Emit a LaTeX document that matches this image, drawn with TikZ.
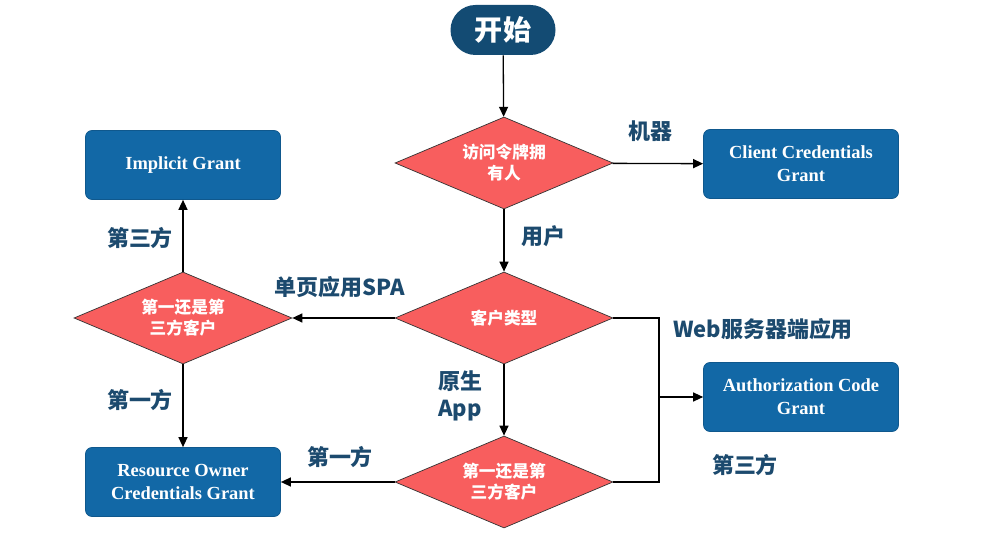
\documentclass[tikz,border=0pt]{standalone}
\usepackage{fontspec}
\setmainfont{Liberation Serif}
\newfontfamily\cjk{Noto Sans CJK SC}
\usetikzlibrary{arrows.meta,shapes.geometric}
\definecolor{FlowNavy}{HTML}{134B73}
\definecolor{FlowBlue}{HTML}{1268A6}
\definecolor{FlowRed}{HTML}{F85E5E}
\definecolor{FlowText}{HTML}{1C4A6E}
\tikzset{>={Triangle[length=2mm,width=1.8mm]},grant/.style={draw=FlowBlue!85!black,
 fill=FlowBlue,rounded corners=1.3mm,minimum width=39mm,minimum height=13.8mm,
 align=center,text=white,font=\bfseries\fontsize{10.5}{13}\selectfont},
 choice/.style={diamond,aspect=2.37,draw=black!80,fill=FlowRed,minimum width=43.6mm,
 minimum height=18.4mm,inner sep=1pt,align=center,text=white,
 font=\cjk\bfseries\fontsize{9.5}{12}\selectfont},every edge/.style={draw,->,line width=0.75pt}}

\begin{document}
\begin{tikzpicture}[x=0.2mm,y=-0.2mm,
 branch/.style={text=FlowText,align=center,font=\cjk\bfseries\fontsize{12.5}{15}\selectfont},
 begin/.style={fill=FlowNavy,text=white,rounded corners=5mm,minimum width=21mm,
  minimum height=10mm,font=\cjk\bfseries\fontsize{16}{18}\selectfont}]
\useasboundingbox (0,0) rectangle (1000,541);
% Decisions on the centre column, grant types on both sides.
\node[begin] (start) at (503,30) {开始};
\node[choice] (owner) at (504,163) {访问令牌拥\\有人};
\node[choice] (kind) at (504,318) {客户类型};
\node[choice] (spa) at (183,318) {第一还是第\\三方客户};
\node[choice] (native) at (504,482) {第一还是第\\三方客户};
\node[grant] (ccg) at (801,164) {Client Credentials\\Grant};
\node[grant] (implicit) at (183,165) {Implicit Grant};
\node[grant] (rocg) at (183,482) {Resource Owner\\Credentials Grant};
\node[grant] (acg) at (801,397) {Authorization Code\\Grant};
\coordinate (join) at (659,397);
\draw (start) edge (owner) (owner) edge (ccg) (owner) edge (kind)
 (kind) edge (spa) (spa) edge (implicit) (spa) edge (rocg)
 (kind) edge (native) (native) edge (rocg);
% Web server apps and third-party native apps meet before the arrow.
\draw[line width=0.75pt] (kind.east) -| (join) (native.east) -| (join);
\draw (join) edge (acg);
\node[branch] (lmachine) at (650,131) {机器};
\node[branch] (luser) at (543,236) {用户};
\node[branch] (lspa) at (340,287) {单页应用SPA};
\node[branch] (lthird) at (140,238) {第三方};
\node[branch] (lfirst) at (140,400) {第一方};
\node[branch] (lnative) at (460,396) {原生\\App};
\node[branch] (lfirstb) at (340,457) {第一方};
\node[branch] (lweb) at (763,329) {Web服务器端应用};
\node[branch] (lthirdb) at (745,465) {第三方};
\end{tikzpicture}
\end{document}
